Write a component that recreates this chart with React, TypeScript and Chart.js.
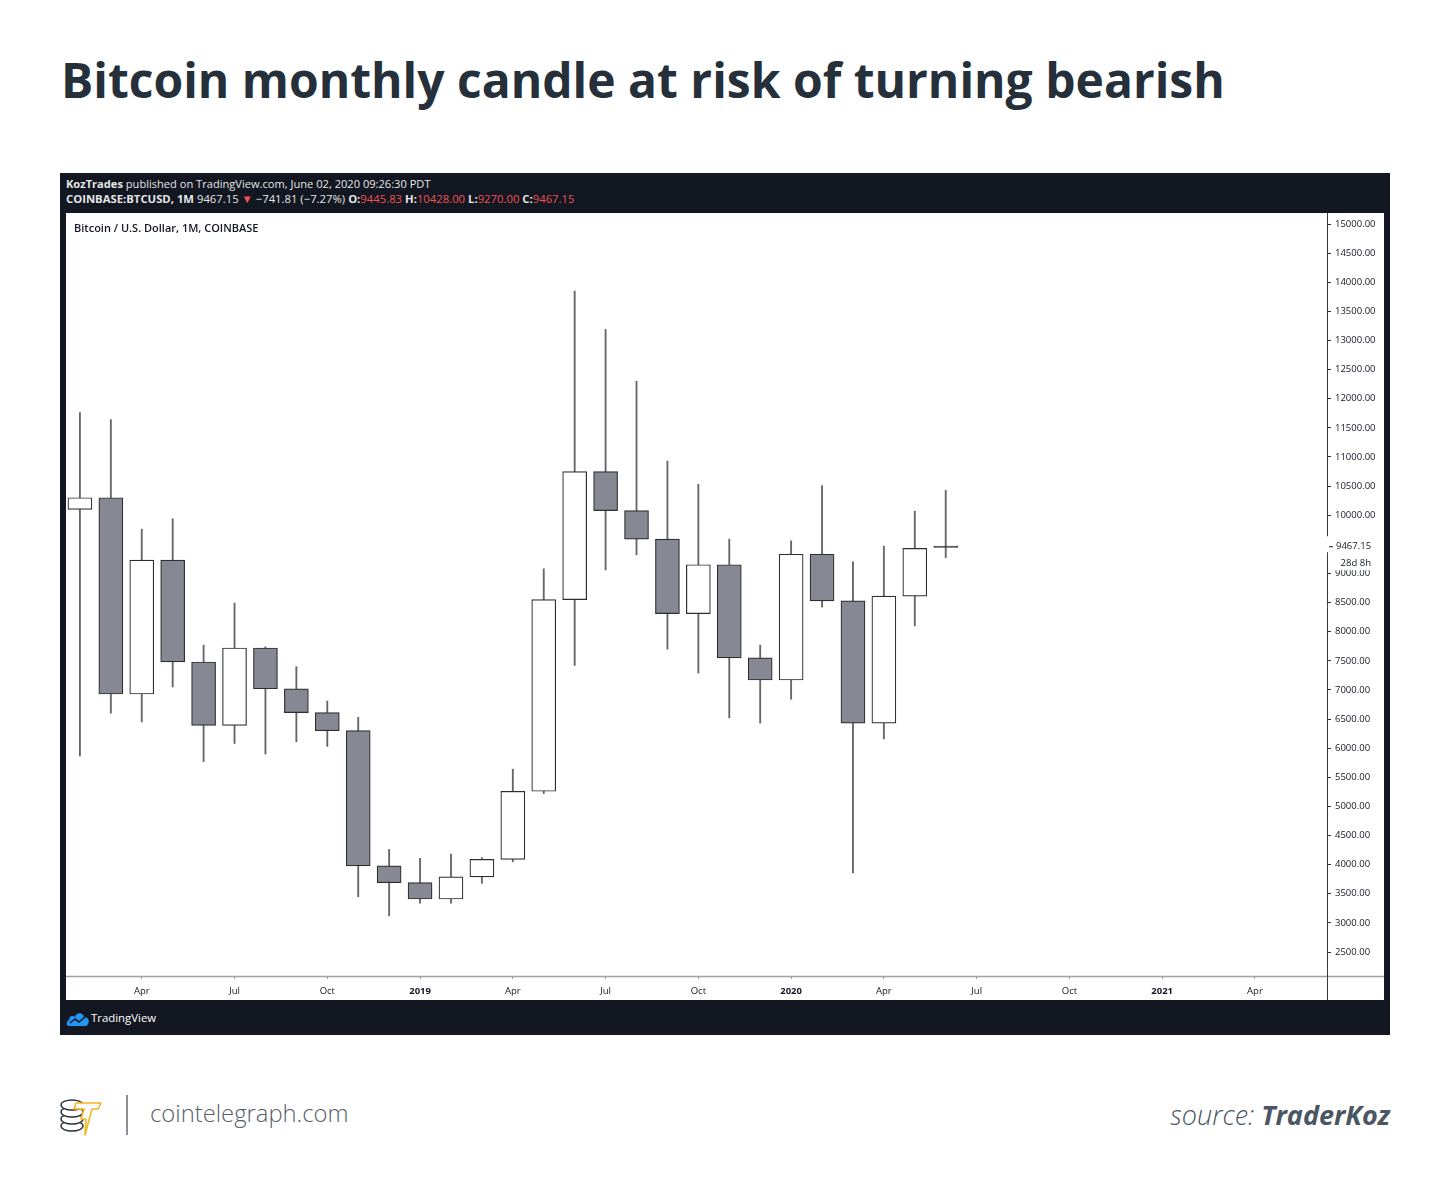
import React, { useEffect, useRef } from "react";
import { Chart, registerables } from "chart.js";

Chart.register(...registerables);

// ---- Data (monthly BTC/USD candles, Coinbase) ----
const months = [
  "2018-02", "2018-03", "2018-04", "2018-05", "2018-06", "2018-07", "2018-08", "2018-09", "2018-10", "2018-11", "2018-12",
  "2019-01", "2019-02", "2019-03", "2019-04", "2019-05", "2019-06", "2019-07", "2019-08", "2019-09", "2019-10", "2019-11", "2019-12",
  "2020-01", "2020-02", "2020-03", "2020-04", "2020-05", "2020-06",
];
const opens = [
  10100, 10300, 6930, 9230, 7480, 6390, 7720, 7020, 6610, 6300, 3980,
  3690, 3410, 3790, 4090, 5260, 8550, 10750, 10080, 9590, 8310, 9150, 7550,
  7170, 9330, 8530, 6430, 8610, 9445.83,
];
const highs = [
  11760, 11640, 9760, 9940, 7770, 8490, 7740, 7400, 6810, 6530, 4260,
  4110, 4180, 4120, 5640, 9080, 13850, 13190, 12300, 10930, 10530, 9590, 7770,
  9560, 10510, 9200, 9470, 10070, 10428.0,
];
const lows = [
  5866, 6600, 6450, 7050, 5770, 6080, 5900, 6110, 6030, 3450, 3120,
  3340, 3340, 3680, 4050, 5220, 7420, 9060, 9320, 7700, 7290, 6520, 6430,
  6840, 8420, 3860, 6160, 8100, 9270.0,
];
const closes = [
  10300, 6930, 9230, 7480, 6390, 7720, 7020, 6610, 6300, 3980, 3690,
  3410, 3790, 4090, 5260, 8550, 10750, 10080, 9590, 8310, 9150, 7550, 7170,
  9330, 8530, 6430, 8610, 9430, 9467.15,
];
const lastClose = 9467.15;
const countdown = "28d 8h";

const yTicks = [2500, 3000, 3500, 4000, 4500, 5000, 5500, 6000, 6500, 7000, 7500, 8000, 8500, 9000, 9500, 10000, 10500, 11000, 11500, 12000, 12500, 13000, 13500, 14000, 14500, 15000];
// tick labels every quarter starting at April 2018 (month index 2 from Feb 2018)
const xTickLabels = ["Apr", "Jul", "Oct", "2019", "Apr", "Jul", "Oct", "2020", "Apr", "Jul", "Oct", "2021", "Apr"];
const xTickValues = xTickLabels.map((_, i) => 2 + i * 3);

const UP_FILL = "#ffffff";
const DOWN_FILL = "#868993";
const EDGE = "#2e2e2e";

const overlayPlugin = {
  id: "tvOverlay",
  afterDraw(chart: any) {
    const { ctx, chartArea, width, height } = chart;
    const yScale = chart.scales.y;
    ctx.save();
    // x axis separator line (spans price axis too)
    ctx.strokeStyle = "#a0a0a0";
    ctx.lineWidth = 1.5;
    ctx.beginPath();
    ctx.moveTo(0, chartArea.bottom + 0.5);
    ctx.lineTo(width, chartArea.bottom + 0.5);
    ctx.stroke();
    // price axis vertical line
    ctx.strokeStyle = "#3a3a3a";
    ctx.lineWidth = 1;
    ctx.beginPath();
    ctx.moveTo(chartArea.right + 0.5, 0);
    ctx.lineTo(chartArea.right + 0.5, height);
    ctx.stroke();
    // last price label
    const y = yScale.getPixelForValue(lastClose);
    ctx.fillStyle = "#ffffff";
    ctx.fillRect(chartArea.right - 1, y - 10, width - chartArea.right + 1, 16);
    ctx.fillRect(chartArea.right + 2, y + 6, width - chartArea.right - 2, 18);
    ctx.strokeStyle = "#131722";
    ctx.beginPath();
    ctx.moveTo(chartArea.right + 2, y + 0.5);
    ctx.lineTo(chartArea.right + 6, y + 0.5);
    ctx.stroke();
    ctx.fillStyle = "#131722";
    ctx.font = "9.5px 'Open Sans'";
    ctx.textBaseline = "middle";
    ctx.textAlign = "left";
    ctx.fillText(lastClose.toFixed(2), chartArea.right + 9, y);
    ctx.textAlign = "right";
    ctx.fillText(countdown, width - 13, y + 17);
    ctx.restore();
  },
};

export default function App() {
  const canvasRef = useRef<HTMLCanvasElement | null>(null);

  useEffect(() => {
    if (!canvasRef.current) return;
    const wickData = months.map((_, i) => ({ x: i, y: [lows[i], highs[i]] }));
    const bodyData = months.map((_, i) => ({ x: i, y: [opens[i], closes[i]] }));
    const bodyFill = months.map((_, i) => {
      if (Math.abs(closes[i] - opens[i]) < 60) return EDGE; // doji renders as a dark line
      return closes[i] >= opens[i] ? UP_FILL : DOWN_FILL;
    });

    const chart = new Chart(canvasRef.current, {
      type: "bar",
      data: {
        datasets: [
          {
            label: "Bodies",
            data: bodyData as any,
            backgroundColor: bodyFill,
            borderColor: EDGE,
            borderWidth: 1.2,
            borderSkipped: false,
            barThickness: 24,
            minBarLength: 1.5,
            grouped: false,
            order: 0,
          } as any,
          {
            label: "Wicks",
            data: wickData as any,
            backgroundColor: "#666666",
            borderWidth: 0,
            barThickness: 1.2,
            grouped: false,
            order: 1,
          } as any,
        ],
      },
      options: {
        animation: false,
        responsive: true,
        maintainAspectRatio: false,
        layout: { padding: 0 },
        plugins: { legend: { display: false }, tooltip: { enabled: false } },
        scales: {
          x: {
            type: "linear",
            min: -0.45,
            max: 40.33,
            offset: false,
            afterFit: (scale: any) => {
              scale.height = 24;
              scale.paddingLeft = 0;
              scale.paddingRight = 0;
            },
            afterBuildTicks: (scale: any) => {
              scale.ticks = xTickValues.map((v) => ({ value: v }));
            },
            border: { display: false },
            grid: { drawOnChartArea: false, drawTicks: true, tickLength: 3, color: "#9a9a9a", offset: false },
            ticks: {
              autoSkip: false,
              maxRotation: 0,
              padding: 7,
              color: "#131722",
              font: (c: any) => ({
                family: "'Open Sans'",
                size: 9.5,
                weight: c.tick && /^\d{4}$/.test(xTickLabels[xTickValues.indexOf(c.tick.value)] || "") ? "bold" : "normal",
              }),
              callback: (v: any) => {
                const k = xTickValues.indexOf(Number(v));
                return k >= 0 ? xTickLabels[k] : "";
              },
            },
          },
          y: {
            type: "linear",
            position: "right",
            min: 2088,
            max: 15189,
            afterFit: (scale: any) => {
              scale.width = 57;
              scale.paddingTop = 0;
              scale.paddingBottom = 0;
            },
            afterBuildTicks: (scale: any) => {
              scale.ticks = yTicks.map((v) => ({ value: v }));
            },
            border: { display: false },
            grid: { drawOnChartArea: false, drawTicks: true, tickLength: 4, color: "#333333" },
            ticks: {
              padding: 4,
              color: "#131722",
              font: { family: "'Open Sans'", size: 9.5 },
              callback: (v: any) => Number(v).toFixed(2),
            },
          },
        },
      },
      plugins: [overlayPlugin],
    });
    return () => chart.destroy();
  }, []);

  return (
    <div
      style={{
        position: "absolute",
        left: 0,
        top: 0,
        width: 1450,
        height: 1195,
        background: "#ffffff",
        fontFamily: "'Open Sans', sans-serif",
        overflow: "hidden",
      }}
    >
      <div
        style={{
          position: "absolute",
          left: 61,
          top: 56,
          fontSize: 48,
          lineHeight: "48px",
          fontWeight: 700,
          color: "#25303a",
          whiteSpace: "nowrap",
        }}
      >
        Bitcoin monthly candle at risk of turning bearish
      </div>

      {/* TradingView dark frame */}
      <div style={{ position: "absolute", left: 60, top: 173, width: 1330, height: 862, background: "#131722" }} />
      <div
        style={{
          position: "absolute",
          left: 66,
          top: 176,
          fontSize: 11.1,
          lineHeight: "15px",
          color: "#e6e6e6",
          whiteSpace: "nowrap",
        }}
      >
        <div>
          <b>KozTrades</b> published on TradingView.com, June 02, 2020 09:26:30 PDT
        </div>
        <div style={{ fontSize: 11.3 }}>
          <b>COINBASE:BTCUSD, 1M</b> 9467.15 <span style={{ color: "#ef5350" }}>▼</span> −741.81 (−7.27%){" "}
          <b>O:</b>
          <span style={{ color: "#ef5350" }}>9445.83</span> <b>H:</b>
          <span style={{ color: "#ef5350" }}>10428.00</span> <b>L:</b>
          <span style={{ color: "#ef5350" }}>9270.00</span> <b>C:</b>
          <span style={{ color: "#ef5350" }}>9467.15</span>
        </div>
      </div>

      <div style={{ position: "absolute", left: 66, top: 213, width: 1318, height: 787, background: "#ffffff" }}>
        <canvas ref={canvasRef} />
      </div>
      <div
        style={{
          position: "absolute",
          left: 74,
          top: 220,
          fontSize: 11,
          lineHeight: "15px",
          fontWeight: 600,
          color: "#131722",
          whiteSpace: "nowrap",
        }}
      >
        Bitcoin / U.S. Dollar, 1M, COINBASE
      </div>

      {/* TradingView logo */}
      <svg style={{ position: "absolute", left: 66, top: 1010 }} width="24" height="17" viewBox="0 0 24 17">
        <path d="M3 16 C0 16 0 11 3 10 C3 6 7 5 9 7 C10 2 17 2 18 7 C22 7 24 11 22 14 C21 16 20 16 19 16 Z" fill="#2196f3" />
        <path d="M4 13 L9 9 L13 12 L19 7" stroke="#131722" strokeWidth="1.6" fill="none" />
      </svg>
      <div
        style={{
          position: "absolute",
          left: 91,
          top: 1011,
          fontSize: 11.4,
          lineHeight: "14px",
          color: "#ffffff",
          whiteSpace: "nowrap",
        }}
      >
        TradingView
      </div>

      {/* Footer */}
      <svg style={{ position: "absolute", left: 59, top: 1095 }} width="44" height="42" viewBox="0 0 44 42">
        <g fill="#ffffff" stroke="#2b3138" strokeWidth="1.4">
          <ellipse cx="13" cy="31" rx="11" ry="5" />
          <ellipse cx="13" cy="24" rx="11" ry="5" />
          <ellipse cx="13" cy="17" rx="11" ry="5" />
          <ellipse cx="13" cy="10" rx="11" ry="5" />
        </g>
        <path d="M17 8 L42 8 L39 14 L33 14 L26 40 L27 24 L22 24 L25 14 L15 14 Z" fill="#ffffff" stroke="#f2b51c" strokeWidth="1.6" strokeLinejoin="round" />
      </svg>
      <div style={{ position: "absolute", left: 126, top: 1095, width: 2, height: 40, background: "#8a9096" }} />
      <div
        style={{
          position: "absolute",
          left: 150,
          top: 1098,
          fontSize: 23.8,
          lineHeight: "30px",
          fontWeight: 300,
          color: "#56606a",
          whiteSpace: "nowrap",
        }}
      >
        cointelegraph.com
      </div>
      <div
        style={{
          position: "absolute",
          right: 60,
          top: 1098,
          fontSize: 27,
          lineHeight: "34px",
          fontStyle: "italic",
          color: "#4a5661",
          whiteSpace: "nowrap",
        }}
      >
        <span style={{ fontWeight: 300 }}>source: </span>
        <span style={{ fontWeight: 700 }}>TraderKoz</span>
      </div>
    </div>
  );
}
